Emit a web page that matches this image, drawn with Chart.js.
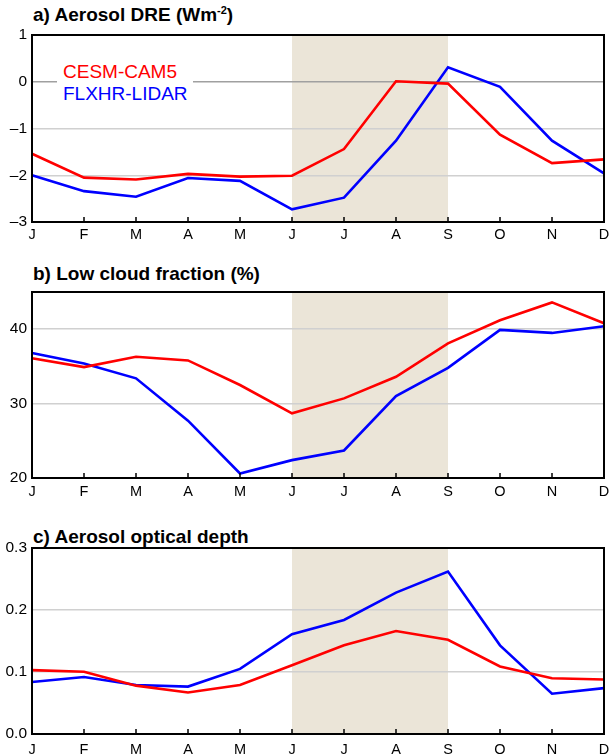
<!DOCTYPE html>
<html>
<head>
<meta charset="utf-8">
<script src="https://cdn.jsdelivr.net/npm/chart.js@4"></script>
<style>
  body { margin: 0; background: #fff; width: 609px; height: 756px; position: relative; overflow: hidden; }
  .panel { position: absolute; left: 0; }
  .title { position: absolute; left: 33px; font: bold 19px "Liberation Sans", Arial, sans-serif; line-height: 19px; color: #000; white-space: nowrap; }
  .title sup { font-size: 11px; line-height: 0; }
  .legend { position: absolute; left: 57px; top: 61px; width: 136px; padding-left: 6px; box-sizing: border-box;
            background: #fff; font: 19px "Liberation Sans", Arial, sans-serif; line-height: 21.7px; }
</style>
</head>
<body>
<div class="title" style="top:5px">a) Aerosol DRE (Wm<sup>-2</sup>)</div>
<canvas id="chartA" class="panel" style="top:0" width="609" height="250"></canvas>
<div class="legend"><div style="color:#f00">CESM-CAM5</div><div style="color:#00f">FLXHR-LIDAR</div></div>

<div class="title" style="top:264px">b) Low cloud fraction (%)</div>
<canvas id="chartB" class="panel" style="top:250px" width="609" height="250"></canvas>

<div class="title" style="top:527px">c) Aerosol optical depth</div>
<canvas id="chartC" class="panel" style="top:500px" width="609" height="256"></canvas>

<script>
var months = ['J', 'F', 'M', 'A', 'M', 'J', 'J', 'A', 'S', 'O', 'N', 'D'];

// a) aerosol direct radiative effect (W m-2)
var dreCesm = [-1.54, -2.05, -2.09, -1.97, -2.03, -2.01, -1.44, 0.01, -0.04, -1.13, -1.74, -1.66];
var dreLidar = [-2.0, -2.34, -2.46, -2.06, -2.12, -2.73, -2.48, -1.26, 0.31, -0.11, -1.26, -1.96];

// b) low cloud fraction (%)
var lcfCesm = [36.1, 34.9, 36.3, 35.8, 32.5, 28.7, 30.7, 33.6, 38.1, 41.2, 43.6, 40.8];
var lcfLidar = [36.8, 35.4, 33.4, 27.7, 20.6, 22.4, 23.7, 31.0, 34.8, 39.9, 39.5, 40.4];

// c) aerosol optical depth
var aodCesm = [0.103, 0.1005, 0.078, 0.067, 0.079, 0.111, 0.143, 0.166, 0.152, 0.109, 0.090, 0.088];
var aodLidar = [0.084, 0.092, 0.079, 0.0765, 0.105, 0.161, 0.184, 0.228, 0.262, 0.143, 0.065, 0.074];

// June..September shading (month index)
var shadeFrom = 5;
var shadeTo = 8;

var fontFamily = '"Liberation Sans", Arial, sans-serif';

var boxPlugin = {
    id: 'box',
    beforeDraw: function (chart) {
        var a = chart.chartArea;
        var x = chart.scales.x;
        var x1 = x.getPixelForValue(shadeFrom);
        var x2 = x.getPixelForValue(shadeTo);
        var ctx = chart.ctx;
        ctx.save();
        ctx.fillStyle = '#ebe5d8';
        ctx.fillRect(x1, a.top, x2 - x1, a.bottom - a.top);
        ctx.restore();
    },
    afterDraw: function (chart) {
        var a = chart.chartArea;
        var x = chart.scales.x;
        var ctx = chart.ctx;
        ctx.save();
        ctx.strokeStyle = '#000';
        ctx.lineWidth = 1.5;
        ctx.beginPath();
        months.forEach(function (m, i) {
            var px = x.getPixelForValue(i);
            ctx.moveTo(px, a.bottom);
            ctx.lineTo(px, a.bottom - 5);
        });
        ctx.stroke();
        ctx.lineWidth = 2;
        ctx.strokeRect(a.left, a.top, a.right - a.left, a.bottom - a.top);
        ctx.restore();
    }
};

function makeChart(id, cesm, lidar, yOpts, padTop, xHeight, xPad) {
    var ctx = document.getElementById(id).getContext('2d');
    return new Chart(ctx, {
        type: 'line',
        data: {
            labels: months,
            datasets: [{
                label: 'CESM-CAM5',
                data: cesm,
                borderColor: '#ff0000',
                borderWidth: 2.6,
                pointRadius: 0,
                tension: 0,
                fill: false,
            },
            {
                label: 'FLXHR-LIDAR',
                data: lidar,
                borderColor: '#0000ff',
                borderWidth: 2.6,
                pointRadius: 0,
                tension: 0,
                fill: false,
            }],
        },
        options: {
            responsive: false,
            animation: false,
            layout: { padding: { top: padTop, right: 5, left: 0, bottom: 0 } },
            plugins: { legend: { display: false }, tooltip: { enabled: false } },
            scales: {
                x: {
                    offset: false,
                    grid: { display: false, drawTicks: false },
                    border: { display: false },
                    ticks: {
                        color: '#000',
                        padding: xPad,
                        maxRotation: 0,
                        autoSkip: false,
                        font: { family: fontFamily, size: 14.5 },
                    },
                    afterFit: function (scale) {
                        scale.height = xHeight;
                        scale.paddingLeft = 0;
                        scale.paddingRight = 0;
                    },
                },
                y: {
                    min: yOpts.min,
                    max: yOpts.max,
                    border: { display: false },
                    grid: {
                        drawTicks: false,
                        lineWidth: 1.5,
                        color: function (c) {
                            var v = c.tick.value;
                            if (v === yOpts.min || v === yOpts.max) return 'rgba(0,0,0,0)';
                            if (v === 0) return '#a0a0a0';
                            return '#d0d0d0';
                        },
                    },
                    ticks: {
                        color: '#000',
                        padding: 5,
                        stepSize: yOpts.step,
                        font: { family: fontFamily, size: 15.5 },
                        callback: yOpts.format,
                    },
                    afterBuildTicks: function (scale) {
                        scale.ticks = yOpts.ticks.map(function (v) { return { value: v }; });
                    },
                    afterFit: function (scale) {
                        scale.width = 32;
                        scale.paddingTop = 0;
                        scale.paddingBottom = 0;
                    },
                },
            },
        },
        plugins: [boxPlugin],
    });
}

makeChart('chartA', dreCesm, dreLidar, {
    min: -3, max: 1, step: 1, ticks: [-3, -2, -1, 0, 1],
    format: function (v) { return String(v).replace('-', '\u2013'); },
}, 35, 28, 4);

makeChart('chartB', lcfCesm, lcfLidar, {
    min: 20, max: 45, step: 10, ticks: [20, 30, 40],
    format: function (v) { return String(v); },
}, 42, 22, 5);

makeChart('chartC', aodCesm, aodLidar, {
    min: 0, max: 0.3, step: 0.1, ticks: [0, 0.1, 0.2, 0.3],
    format: function (v) { return v.toFixed(1); },
}, 48, 22, 7);
</script>
</body>
</html>
